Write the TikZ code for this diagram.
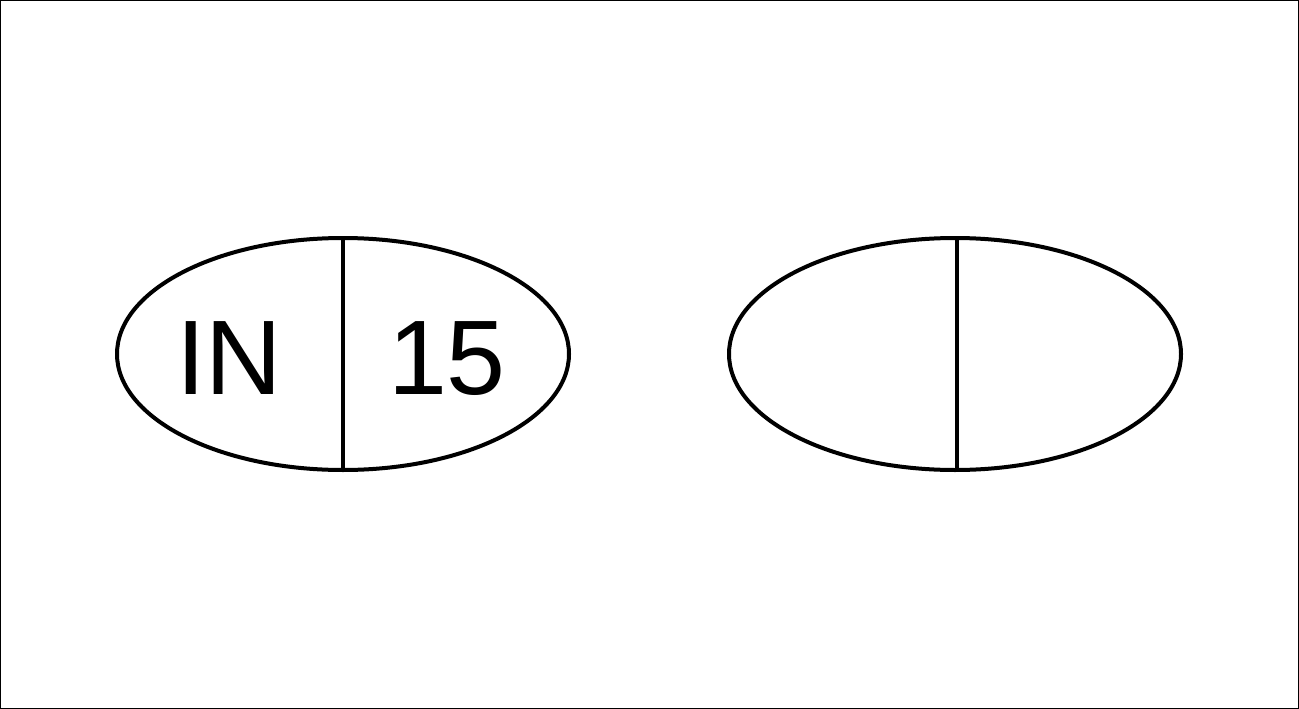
\documentclass[tikz,border=0pt]{standalone}
\usepackage{fontspec}
\setmainfont{Liberation Sans}
\usetikzlibrary{shapes.geometric}
\begin{document}
\begin{tikzpicture}[x=1pt,y=-1pt,
  oval/.style={draw, ellipse, line width=4pt, minimum width=452pt, minimum height=232pt, inner sep=0pt},
  divider/.style={line width=4pt},
  lbl/.style={font=\fontsize{106}{106}\selectfont, inner sep=0pt, anchor=base}]
\useasboundingbox (0,0) rectangle (1299,709);
\draw[line width=1.2pt] (0.6,0.6) rectangle (1298.4,708.4);
\node[oval] (e1) at (343,354) {};
\node[oval] (e2) at (955,354) {};
\coordinate (d1t) at (343,238);
\coordinate (d1b) at (343,470);
\coordinate (d2t) at (957,238);
\coordinate (d2b) at (957,470);
\draw[divider] (d1t) -- (d1b);
\draw[divider] (d2t) -- (d2b);
\node[lbl] (t1) at (229,394) {IN};
\node[lbl] (t2) at (447,394) {15};
\end{tikzpicture}
\end{document}
